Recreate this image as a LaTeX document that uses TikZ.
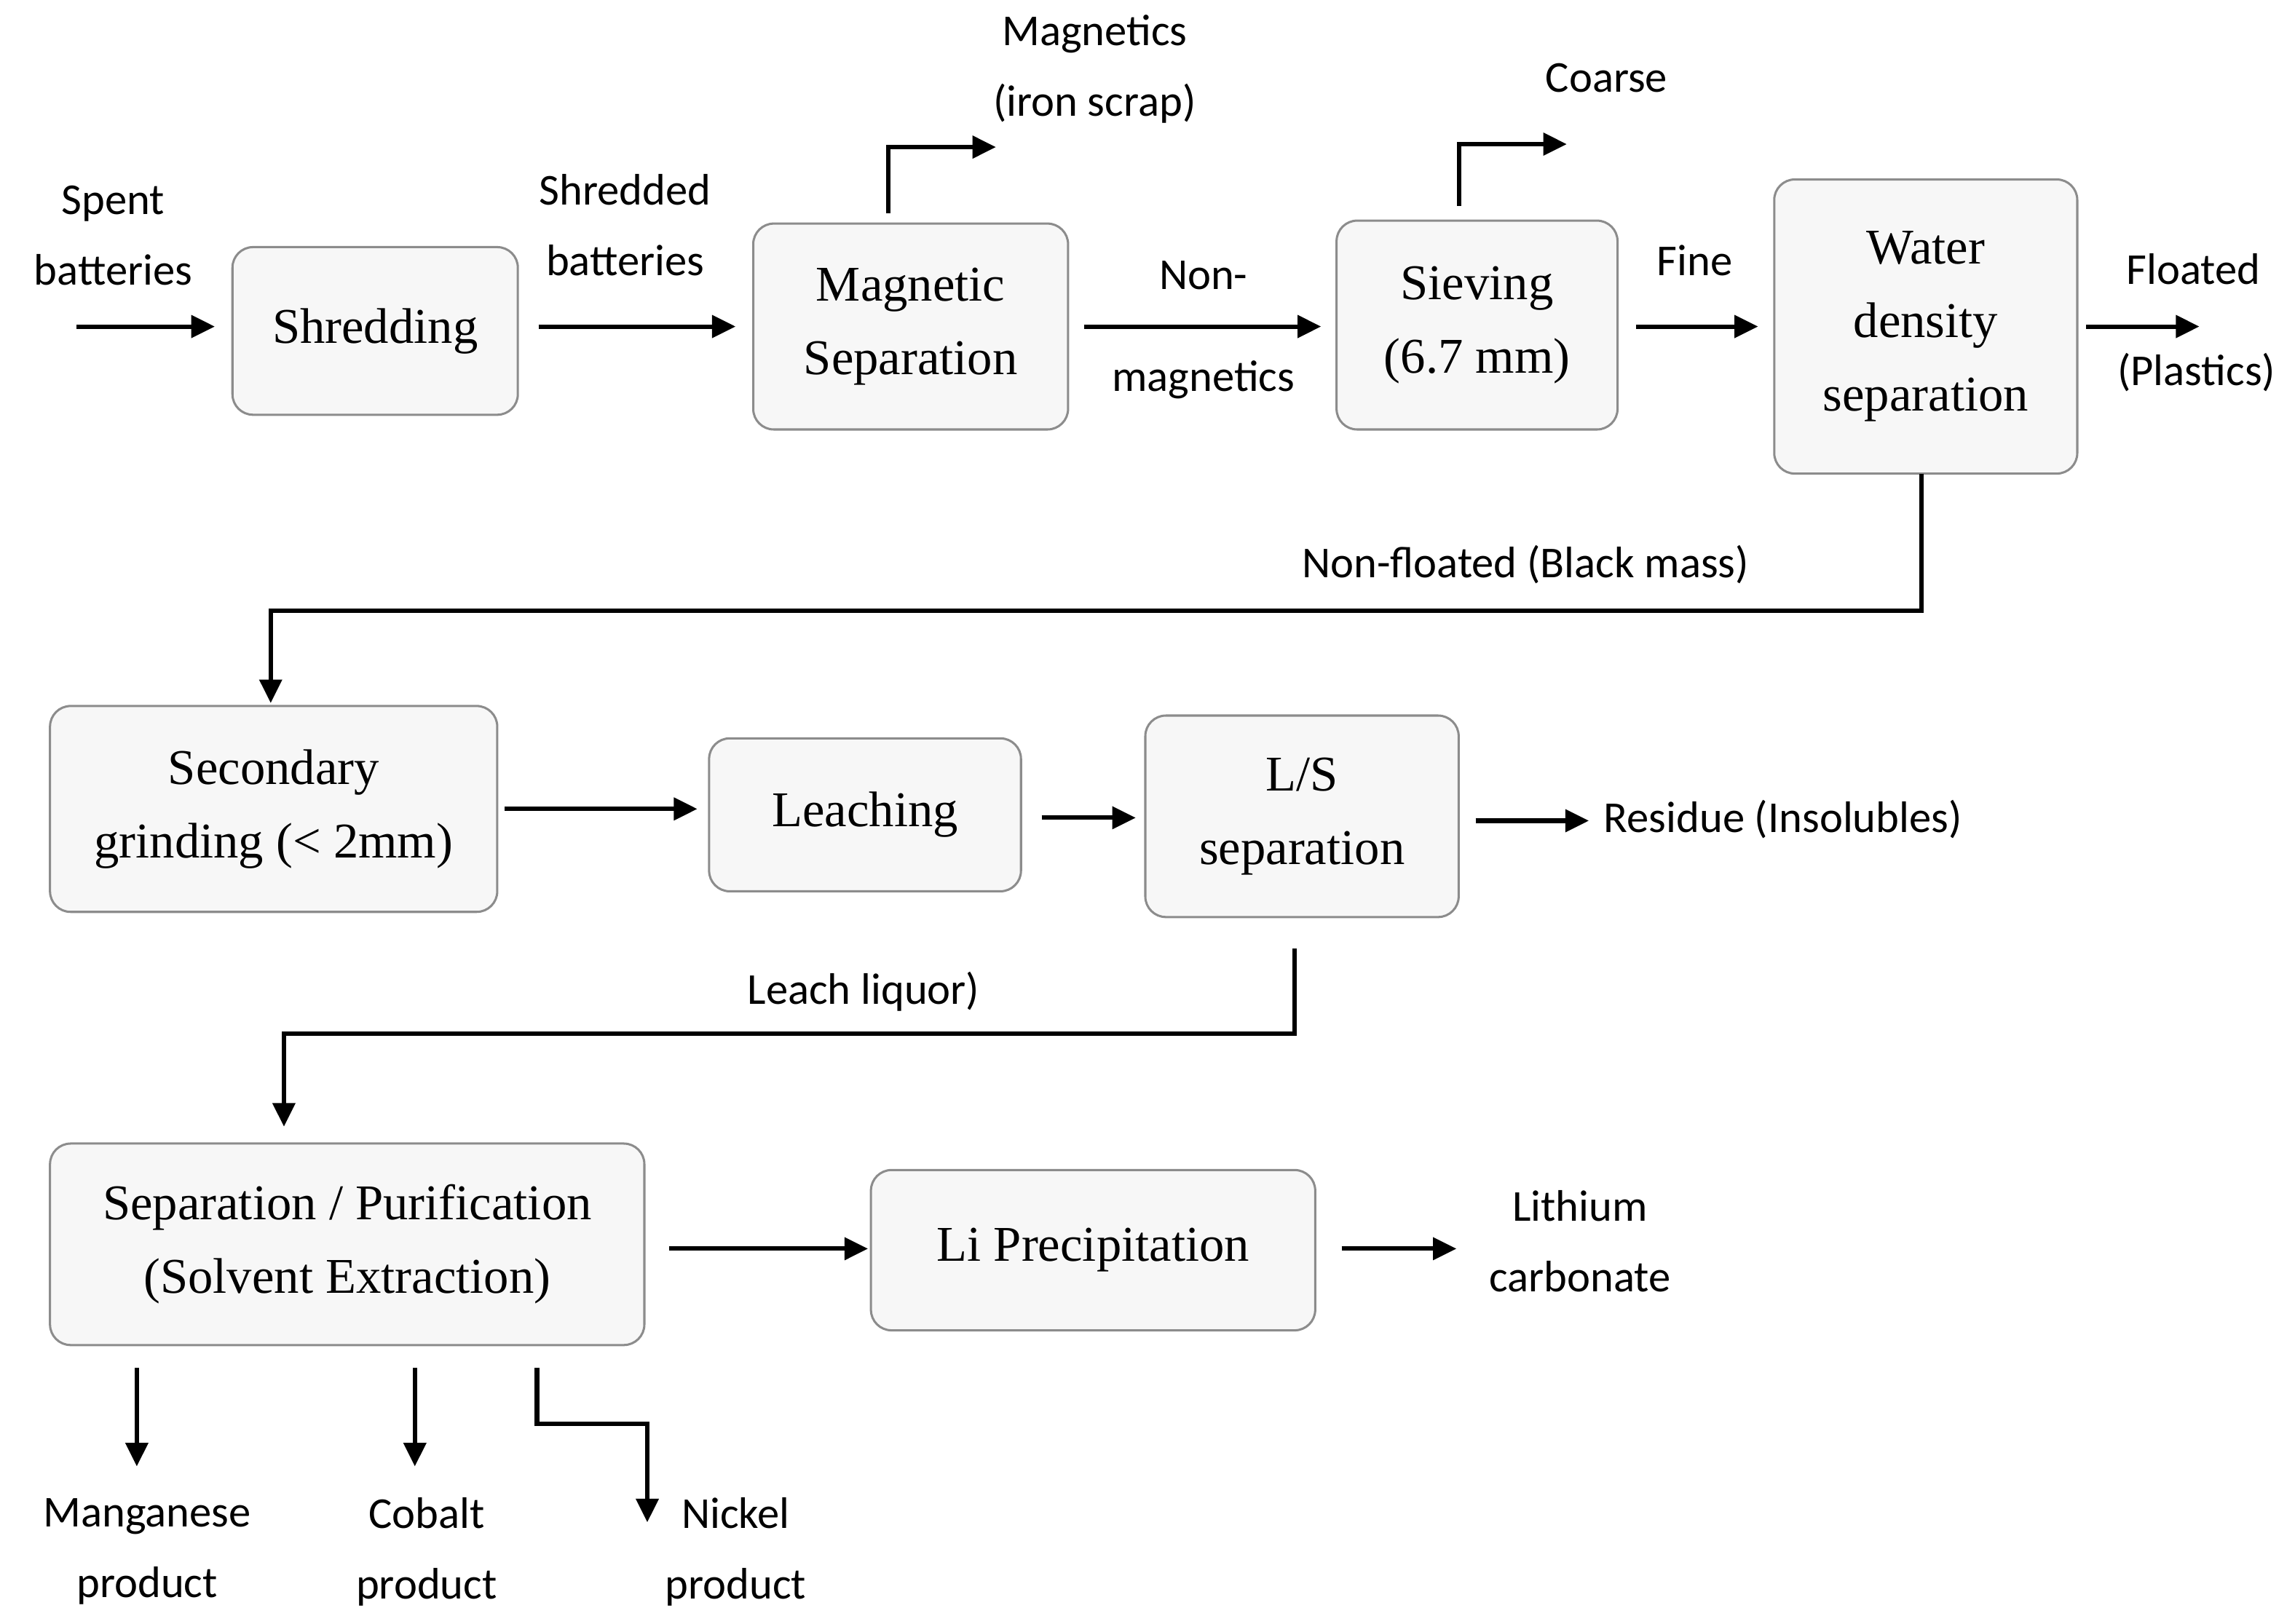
\documentclass[tikz,border=0pt]{standalone}
\usepackage{fontspec}
\setmainfont{Liberation Serif}
\newfontfamily\lab{Carlito}
\usetikzlibrary{arrows.meta}
\begin{document}
\begin{tikzpicture}[x=1pt,y=-1pt,
 box/.style={draw=black!45,line width=1.5pt,rounded corners=14pt,fill=black!3,align=center,
   font=\fontsize{34}{50}\selectfont,inner sep=0pt},
 lbl/.style={align=center,font=\lab\fontsize{30}{48}\selectfont,inner sep=0pt},
 ar/.style={line width=3pt,-{Triangle[length=16pt,width=15pt]}}]
\useasboundingbox (0,0) rectangle (1560,1104);
\node[box,minimum width=194,minimum height=114] (shr) at (255,225) {Shredding};
\node[box,minimum width=214,minimum height=140] (mag) at (619,222) {Magnetic\\Separation};
\node[box,minimum width=191,minimum height=142] (sie) at (1004,221) {Sieving\\(6.7 mm)};
\node[box,minimum width=206,minimum height=200] (wat) at (1309,222) {Water\\density\\separation};
\node[box,minimum width=304,minimum height=140] (sec) at (186,550) {Secondary\\grinding (< 2mm)};
\node[box,minimum width=212,minimum height=104] (lea) at (588,554) {Leaching};
\node[box,minimum width=213,minimum height=137] (ls) at (885,555) {L/S\\separation};
\node[box,minimum width=404,minimum height=137] (sep) at (236,846) {Separation / Purification\\(Solvent Extraction)};
\node[box,minimum width=302,minimum height=109] (li) at (743,850) {Li Precipitation};

\node[lbl] (spent) at (77,160) {Spent\\batteries};
\node[lbl] (shb) at (425,153) {Shredded\\batteries};
\node[lbl] (mgt) at (744,47) {Magnetics\\(iron scrap)};
\node[lbl] (nm1) at (818,187) {Non-};
\node[lbl] (nm2) at (818,258) {magnetics};
\node[lbl] (coa) at (1092,53) {Coarse};
\node[lbl] (fin) at (1152,177) {Fine};
\node[lbl] (flo1) at (1491,183) {Floated};
\node[lbl] (flo2) at (1493,253) {(Plastics)};
\node[lbl] (nfl) at (1037,384) {Non-floated (Black mass)};
\node[lbl,anchor=west] (res) at (1090,557) {Residue (Insolubles)};
\node[lbl] (liq) at (587,674) {Leach liquor)};
\node[lbl] (lic) at (1074,844) {Lithium\\carbonate};
\node[lbl] (mn) at (100,1055) {Manganese\\product};
\node[lbl] (co) at (290,1055) {Cobalt\\product};
\node[lbl] (ni) at (500,1055) {Nickel\\product};

\coordinate (a0) at (52,222);
\coordinate (wb) at (1306,322);
\draw[ar] (a0) -- (146,222);
\draw[ar] (366,222) -- (500,222);
\draw[ar] (737,222) -- (898,222);
\draw[ar] (1112,222) -- (1195,222);
\draw[ar] (1418,222) -- (1495,222);
\draw[ar] (604,145) -- (604,100) -- (677,100);
\draw[ar] (992,140) -- (992,98) -- (1065,98);
\draw[ar] (wb) -- (1306,415) -- (184,415) -- (184,478);
\draw[ar] (343,550) -- (474,550);
\draw[ar] (708,556) -- (772,556);
\draw[ar] (1003,558) -- (1080,558);
\draw[ar] (880,645) -- (880,703) -- (193,703) -- (193,766);
\draw[ar] (455,849) -- (590,849);
\draw[ar] (912,849) -- (990,849);
\draw[ar] (93,930) -- (93,997);
\draw[ar] (282,930) -- (282,997);
\draw[ar] (365,930) -- (365,968) -- (440,968) -- (440,1035);
\end{tikzpicture}
\end{document}
